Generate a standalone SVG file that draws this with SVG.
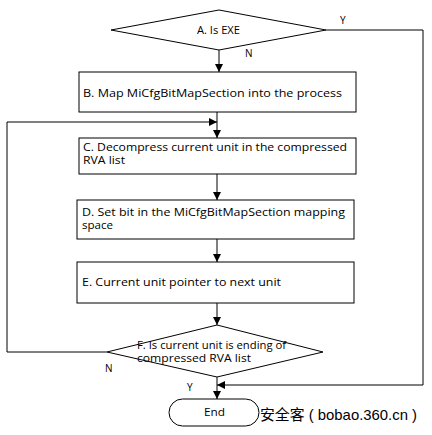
<svg xmlns="http://www.w3.org/2000/svg" width="432" height="435" viewBox="0 0 432 435">
<style>
.box{fill:#fff;stroke:#000;stroke-width:1}
.ln{fill:none;stroke:#000;stroke-width:1}
.t{font-family:"Open Sans","Liberation Sans",sans-serif;font-size:10px;fill:#000}
.wm{font-family:"Liberation Sans","Noto Sans CJK SC",sans-serif;font-size:15px;fill:#000}
</style>
<defs>
<marker id="ah" viewBox="0 0 10 10" refX="10" refY="5" markerWidth="8" markerHeight="8" markerUnits="userSpaceOnUse" orient="auto">
<path d="M0,0 L10,5 L0,10 Z" fill="#000"/>
</marker>
</defs>
<rect width="432" height="435" fill="#fff"/>
<g id="connectors">
<line class="ln" x1="219" y1="50" x2="219" y2="72" marker-end="url(#ah)"/>
<line class="ln" x1="217" y1="112" x2="217" y2="138" marker-end="url(#ah)"/>
<polyline class="ln" points="107,352 7,352 7,122 217,122" marker-end="url(#ah)"/>
<line class="ln" x1="217" y1="174" x2="217" y2="200" marker-end="url(#ah)"/>
<line class="ln" x1="217" y1="239" x2="217" y2="262" marker-end="url(#ah)"/>
<line class="ln" x1="217" y1="303" x2="217" y2="325" marker-end="url(#ah)"/>
<line class="ln" x1="217" y1="377" x2="217" y2="399" marker-end="url(#ah)"/>
<polyline class="ln" points="326,30 423,30 423,385 217,385" marker-end="url(#ah)"/>
<text class="t" x="340" y="24">Y</text>
<text class="t" x="245" y="57">N</text>
<text class="t" x="105" y="372">N</text>
<text class="t" x="187" y="391">Y</text>
</g>
<g id="nodeA">
<polygon class="box" points="111,30 219,10 326,30 219,50"/>
<text class="t" x="197" y="34" textLength="43" lengthAdjust="spacingAndGlyphs">A. Is EXE</text>
</g>
<g id="nodeB">
<rect class="box" x="79" y="72" width="277" height="40"/>
<text class="t" x="83" y="97" textLength="259" lengthAdjust="spacingAndGlyphs">B. Map MiCfgBitMapSection into the process</text>
</g>
<g id="nodeC">
<rect class="box" x="79" y="138" width="277" height="36"/>
<text class="t" x="83" y="151" textLength="264" lengthAdjust="spacingAndGlyphs">C. Decompress current unit in the compressed</text>
<text class="t" x="83" y="164" textLength="42" lengthAdjust="spacingAndGlyphs">RVA list</text>
</g>
<g id="nodeD">
<rect class="box" x="77" y="200" width="277" height="39"/>
<text class="t" x="82" y="216" textLength="263" lengthAdjust="spacingAndGlyphs">D. Set bit in the MiCfgBitMapSection mapping</text>
<text class="t" x="82" y="229" textLength="31" lengthAdjust="spacingAndGlyphs">space</text>
</g>
<g id="nodeE">
<rect class="box" x="77" y="262" width="277" height="41"/>
<text class="t" x="82" y="286" textLength="199" lengthAdjust="spacingAndGlyphs">E. Current unit pointer to next unit</text>
</g>
<g id="nodeF">
<polygon class="box" points="107,352 217,325 323,352 217,377"/>
<text class="t" x="137" y="349" textLength="149" lengthAdjust="spacingAndGlyphs">F. Is current unit is ending of</text>
<text class="t" x="137" y="362" textLength="114" lengthAdjust="spacingAndGlyphs">compressed RVA list</text>
</g>
<g id="nodeEnd">
<rect class="box" x="169" y="399" width="90" height="27" rx="13.5"/>
<text class="t" x="204" y="416" textLength="21" lengthAdjust="spacingAndGlyphs">End</text>
</g>
<text class="wm" x="260" y="420" textLength="157" lengthAdjust="spacingAndGlyphs">安全客 ( bobao.360.cn )</text>
</svg>
